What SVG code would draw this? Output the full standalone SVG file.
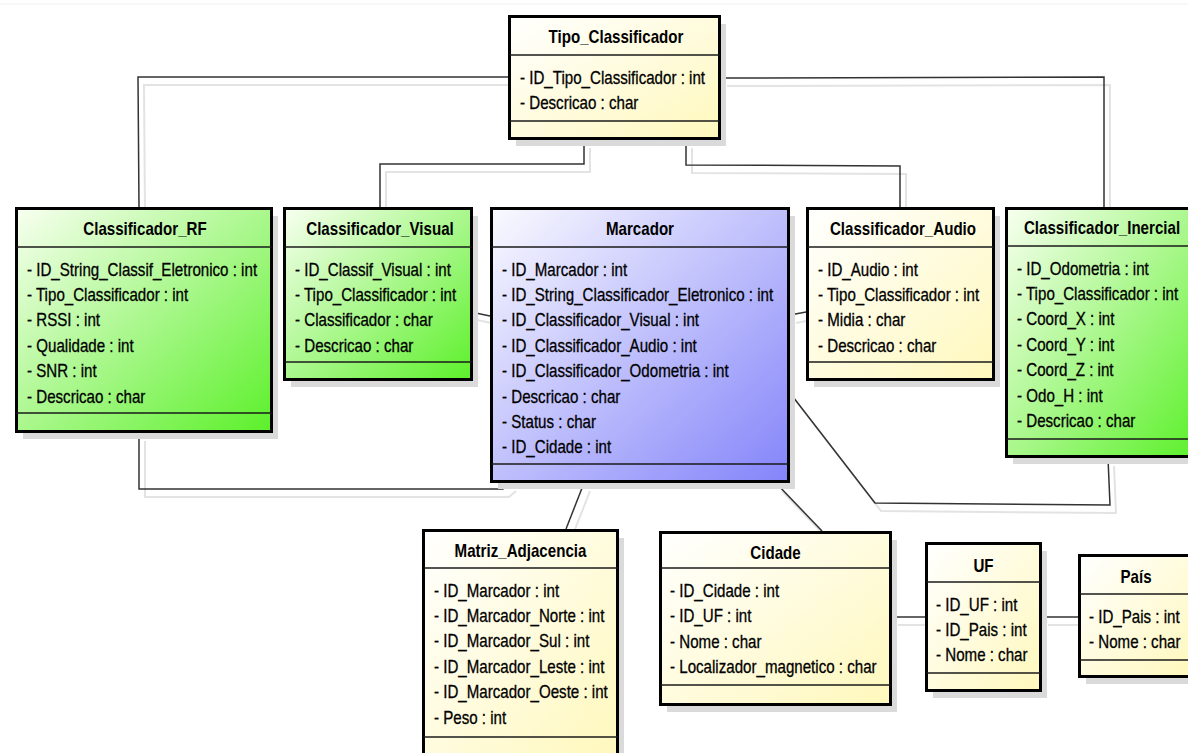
<svg xmlns="http://www.w3.org/2000/svg" width="1188" height="753" viewBox="0 0 1188 753">
  <defs>
    <linearGradient id="gYellow" x1="0" y1="0" x2="1" y2="1">
      <stop offset="0" stop-color="#ffffff"/>
      <stop offset="1" stop-color="#fff8bc"/>
    </linearGradient>
    <linearGradient id="gGreen" x1="0" y1="0" x2="1" y2="1">
      <stop offset="0" stop-color="#f8fff0"/>
      <stop offset="1" stop-color="#5cf02a"/>
    </linearGradient>
    <linearGradient id="gBlue" x1="0" y1="0" x2="1" y2="1">
      <stop offset="0" stop-color="#fafaff"/>
      <stop offset="1" stop-color="#8484fa"/>
    </linearGradient>
    <style>
      .shadow { fill: #dadada; }
      .box { stroke: #000; stroke-width: 3; }
      .div { stroke: #1a1a1a; stroke-width: 1.5; }
      .title { font-family: "Liberation Sans", Arial, sans-serif; font-size: 18px; font-weight: bold; text-anchor: middle; fill: #000; }
      .attr { font-family: "Liberation Sans", Arial, sans-serif; font-size: 18px; fill: #000; stroke: #000; stroke-width: 0.3; }
      .conn { fill: none; stroke: #333; stroke-width: 1.5; }
      .conn-shadow { fill: none; stroke: #e3e3e3; stroke-width: 2; }
    </style>
  </defs>

  <rect x="0" y="0" width="1188" height="753" fill="#ffffff"/>
  <line x1="0" y1="4" x2="1188" y2="4" stroke="#f0f0f0" stroke-width="1"/>

  <!-- soft offset copies of the associations -->
  <g id="connector-shadows" class="conn-shadow" transform="translate(6 8)">
    <polyline points="508,77 138,77 139,207"/>
    <polyline points="584,140 584,164 380,164 380,207"/>
    <polyline points="686,140 686,165 900,166 900,207"/>
    <polyline points="721,78 1104,77 1104,207"/>
    <polyline points="139,433 139,489 503,489 510,483"/>
    <polyline points="471,312 490,316"/>
    <polyline points="790,315 806,312"/>
    <polyline points="790,393 875,503 1110,505 1108,458"/>
    <polyline points="584,483 566,529"/>
    <polyline points="776,483 822,531"/>
    <polyline points="892,617 925,617"/>
    <polyline points="1042,617 1078,617"/>
  </g>

  <!-- associations -->
  <g id="connectors" class="conn">
    <polyline points="508,77 138,77 139,207"/>
    <polyline points="584,140 584,164 380,164 380,207"/>
    <polyline points="686,140 686,165 900,166 900,207"/>
    <polyline points="721,78 1104,77 1104,207"/>
    <polyline points="139,433 139,489 503,489 510,483"/>
    <polyline points="471,312 490,316"/>
    <polyline points="790,315 806,312"/>
    <polyline points="790,393 875,503 1110,505 1108,458"/>
    <polyline points="584,483 566,529"/>
    <polyline points="776,483 822,531"/>
    <polyline points="892,617 925,617"/>
    <polyline points="1042,617 1078,617"/>
  </g>

  <g id="tipo-classificador">
    <rect class="shadow" x="516" y="24" width="210" height="122"/>
    <rect class="box" fill="url(#gYellow)" x="509.5" y="16.5" width="210" height="122"/>
    <line class="div" x1="509.5" y1="55" x2="719.5" y2="55"/>
    <line class="div" x1="509.5" y1="121" x2="719.5" y2="121"/>
    <text class="title" transform="translate(616 43) scale(0.84 1)">Tipo_Classificador</text>
    <text class="attr" transform="translate(520 83.5) scale(0.84 1)">- ID_Tipo_Classificador : int</text>
    <text class="attr" transform="translate(520 108.9) scale(0.84 1)">- Descricao : char</text>
  </g>

  <g id="classificador-rf">
    <rect class="shadow" x="23" y="216" width="255" height="223"/>
    <rect class="box" fill="url(#gGreen)" x="16.5" y="208.5" width="255" height="223"/>
    <line class="div" x1="16.5" y1="247" x2="271.5" y2="247"/>
    <line class="div" x1="16.5" y1="413" x2="271.5" y2="413"/>
    <text class="title" transform="translate(145 235) scale(0.84 1)">Classificador_RF</text>
    <text class="attr" transform="translate(27 275.5) scale(0.84 1)">- ID_String_Classif_Eletronico : int</text>
    <text class="attr" transform="translate(27 300.9) scale(0.84 1)">- Tipo_Classificador : int</text>
    <text class="attr" transform="translate(27 326.3) scale(0.84 1)">- RSSI : int</text>
    <text class="attr" transform="translate(27 351.7) scale(0.84 1)">- Qualidade : int</text>
    <text class="attr" transform="translate(27 377.1) scale(0.84 1)">- SNR : int</text>
    <text class="attr" transform="translate(27 402.5) scale(0.84 1)">- Descricao : char</text>
  </g>

  <g id="classificador-visual">
    <rect class="shadow" x="291" y="216" width="187" height="171"/>
    <rect class="box" fill="url(#gGreen)" x="284.5" y="208.5" width="187" height="171"/>
    <line class="div" x1="284.5" y1="247" x2="471.5" y2="247"/>
    <line class="div" x1="284.5" y1="362" x2="471.5" y2="362"/>
    <text class="title" transform="translate(380 235) scale(0.84 1)">Classificador_Visual</text>
    <text class="attr" transform="translate(295 275.5) scale(0.84 1)">- ID_Classif_Visual : int</text>
    <text class="attr" transform="translate(295 300.9) scale(0.84 1)">- Tipo_Classificador : int</text>
    <text class="attr" transform="translate(295 326.3) scale(0.84 1)">- Classificador : char</text>
    <text class="attr" transform="translate(295 351.7) scale(0.84 1)">- Descricao : char</text>
  </g>

  <g id="marcador">
    <rect class="shadow" x="498" y="216" width="297" height="273"/>
    <rect class="box" fill="url(#gBlue)" x="491.5" y="208.5" width="297" height="273"/>
    <line class="div" x1="491.5" y1="247" x2="788.5" y2="247"/>
    <line class="div" x1="491.5" y1="464" x2="788.5" y2="464"/>
    <text class="title" transform="translate(640 235) scale(0.84 1)">Marcador</text>
    <text class="attr" transform="translate(502 275.5) scale(0.84 1)">- ID_Marcador : int</text>
    <text class="attr" transform="translate(502 300.9) scale(0.84 1)">- ID_String_Classificador_Eletronico : int</text>
    <text class="attr" transform="translate(502 326.3) scale(0.84 1)">- ID_Classificador_Visual : int</text>
    <text class="attr" transform="translate(502 351.7) scale(0.84 1)">- ID_Classificador_Audio : int</text>
    <text class="attr" transform="translate(502 377.1) scale(0.84 1)">- ID_Classificador_Odometria : int</text>
    <text class="attr" transform="translate(502 402.5) scale(0.84 1)">- Descricao : char</text>
    <text class="attr" transform="translate(502 427.9) scale(0.84 1)">- Status : char</text>
    <text class="attr" transform="translate(502 453.3) scale(0.84 1)">- ID_Cidade : int</text>
  </g>

  <g id="classificador-audio">
    <rect class="shadow" x="814" y="216" width="186" height="171"/>
    <rect class="box" fill="url(#gYellow)" x="807.5" y="208.5" width="186" height="171"/>
    <line class="div" x1="807.5" y1="247" x2="993.5" y2="247"/>
    <line class="div" x1="807.5" y1="362" x2="993.5" y2="362"/>
    <text class="title" transform="translate(903 235) scale(0.84 1)">Classificador_Audio</text>
    <text class="attr" transform="translate(818 275.5) scale(0.84 1)">- ID_Audio : int</text>
    <text class="attr" transform="translate(818 300.9) scale(0.84 1)">- Tipo_Classificador : int</text>
    <text class="attr" transform="translate(818 326.3) scale(0.84 1)">- Midia : char</text>
    <text class="attr" transform="translate(818 351.7) scale(0.84 1)">- Descricao : char</text>
  </g>

  <g id="classificador-inercial">
    <rect class="shadow" x="1013" y="216" width="191" height="248"/>
    <rect class="box" fill="url(#gGreen)" x="1006.5" y="208.5" width="191" height="248"/>
    <line class="div" x1="1006.5" y1="246" x2="1197.5" y2="246"/>
    <line class="div" x1="1006.5" y1="439" x2="1197.5" y2="439"/>
    <text class="title" transform="translate(1102 234) scale(0.84 1)">Classificador_Inercial</text>
    <text class="attr" transform="translate(1017 274.5) scale(0.84 1)">- ID_Odometria : int</text>
    <text class="attr" transform="translate(1017 299.9) scale(0.84 1)">- Tipo_Classificador : int</text>
    <text class="attr" transform="translate(1017 325.3) scale(0.84 1)">- Coord_X : int</text>
    <text class="attr" transform="translate(1017 350.7) scale(0.84 1)">- Coord_Y : int</text>
    <text class="attr" transform="translate(1017 376.1) scale(0.84 1)">- Coord_Z : int</text>
    <text class="attr" transform="translate(1017 401.5) scale(0.84 1)">- Odo_H : int</text>
    <text class="attr" transform="translate(1017 426.9) scale(0.84 1)">- Descricao : char</text>
  </g>

  <g id="matriz-adjacencia">
    <rect class="shadow" x="430" y="538" width="194" height="228"/>
    <rect class="box" fill="url(#gYellow)" x="423.5" y="530.5" width="194" height="228"/>
    <line class="div" x1="423.5" y1="568" x2="617.5" y2="568"/>
    <line class="div" x1="423.5" y1="737" x2="617.5" y2="737"/>
    <text class="title" transform="translate(520.5 557) scale(0.84 1)">Matriz_Adjacencia</text>
    <text class="attr" transform="translate(434 596.5) scale(0.84 1)">- ID_Marcador : int</text>
    <text class="attr" transform="translate(434 621.9) scale(0.84 1)">- ID_Marcador_Norte : int</text>
    <text class="attr" transform="translate(434 647.3) scale(0.84 1)">- ID_Marcador_Sul : int</text>
    <text class="attr" transform="translate(434 672.7) scale(0.84 1)">- ID_Marcador_Leste : int</text>
    <text class="attr" transform="translate(434 698.1) scale(0.84 1)">- ID_Marcador_Oeste : int</text>
    <text class="attr" transform="translate(434 723.5) scale(0.84 1)">- Peso : int</text>
  </g>

  <g id="cidade">
    <rect class="shadow" x="667" y="540" width="230" height="172"/>
    <rect class="box" fill="url(#gYellow)" x="660.5" y="532.5" width="230" height="172"/>
    <line class="div" x1="660.5" y1="568" x2="890.5" y2="568"/>
    <line class="div" x1="660.5" y1="685" x2="890.5" y2="685"/>
    <text class="title" transform="translate(775.5 559) scale(0.84 1)">Cidade</text>
    <text class="attr" transform="translate(670 597) scale(0.84 1)">- ID_Cidade : int</text>
    <text class="attr" transform="translate(670 622.4) scale(0.84 1)">- ID_UF : int</text>
    <text class="attr" transform="translate(670 647.8) scale(0.84 1)">- Nome : char</text>
    <text class="attr" transform="translate(670 673.2) scale(0.84 1)">- Localizador_magnetico : char</text>
  </g>

  <g id="uf">
    <rect class="shadow" x="933" y="551" width="114" height="147"/>
    <rect class="box" fill="url(#gYellow)" x="926.5" y="543.5" width="114" height="147"/>
    <line class="div" x1="926.5" y1="582" x2="1040.5" y2="582"/>
    <line class="div" x1="926.5" y1="673" x2="1040.5" y2="673"/>
    <text class="title" transform="translate(983.5 572) scale(0.84 1)">UF</text>
    <text class="attr" transform="translate(936 610.5) scale(0.84 1)">- ID_UF : int</text>
    <text class="attr" transform="translate(936 635.9) scale(0.84 1)">- ID_Pais : int</text>
    <text class="attr" transform="translate(936 661.3) scale(0.84 1)">- Nome : char</text>
  </g>

  <g id="pais">
    <rect class="shadow" x="1086" y="563" width="113" height="121"/>
    <rect class="box" fill="url(#gYellow)" x="1079.5" y="555.5" width="113" height="121"/>
    <line class="div" x1="1079.5" y1="594" x2="1192.5" y2="594"/>
    <line class="div" x1="1079.5" y1="660" x2="1192.5" y2="660"/>
    <text class="title" transform="translate(1136 583) scale(0.84 1)">País</text>
    <text class="attr" transform="translate(1089 622.5) scale(0.84 1)">- ID_Pais : int</text>
    <text class="attr" transform="translate(1089 647.9) scale(0.84 1)">- Nome : char</text>
  </g>
</svg>
